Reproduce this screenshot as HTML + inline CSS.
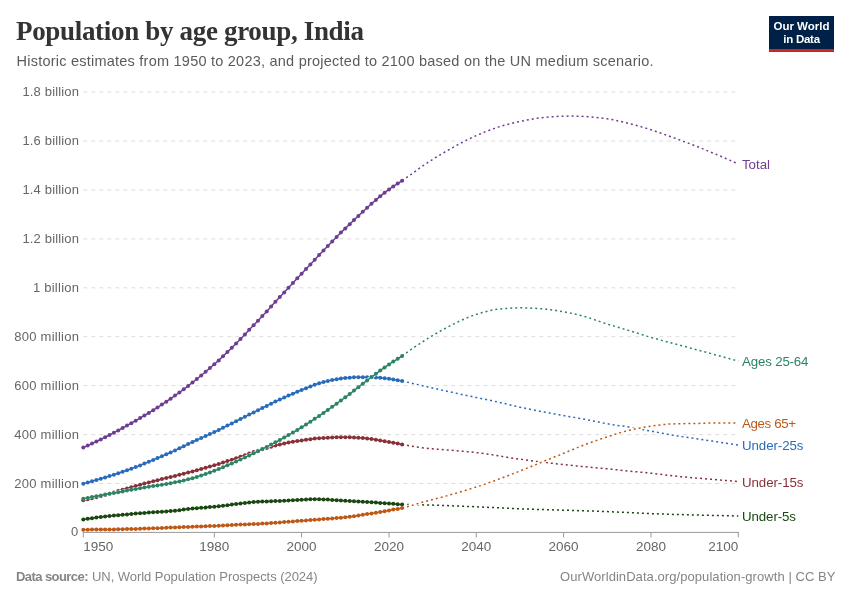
<!DOCTYPE html>
<html><head><meta charset="utf-8"><title>Population by age group, India</title>
<style>
html,body{margin:0;padding:0;background:#fff;}
body{width:850px;height:600px;overflow:hidden;position:relative;font-family:"Liberation Sans",sans-serif;}
svg{position:absolute;left:0;top:0;}
svg text{font-family:"Liberation Sans",sans-serif;}
svg{will-change:transform;}
.title{font-family:"Liberation Serif",serif;font-weight:bold;}
</style></head><body>
<svg width="850" height="600" viewBox="0 0 850 600">
<rect width="850" height="600" fill="#fff"/>
<text class="title" x="16" y="40.3" font-size="27" fill="#333" textLength="348" style="font-family:'Liberation Serif',serif;font-weight:bold">Population by age group, India</text>
<text x="16.5" y="66.2" font-size="14.5" fill="#5b5b5b" textLength="637">Historic estimates from 1950 to 2023, and projected to 2100 based on the UN medium scenario.</text>
<g id="logo">
<rect x="769" y="16" width="65" height="36" fill="#002147"/>
<rect x="769" y="49" width="65" height="3" fill="#ce261e"/>
<text x="801.5" y="30.4" text-anchor="middle" font-size="11.5" font-weight="bold" fill="#fff">Our World</text>
<text x="801.7" y="42.5" text-anchor="middle" font-size="11.5" font-weight="bold" fill="#fff" textLength="36.8">in Data</text>
</g>
<g id="grid">
<text x="71.1" y="536.4" font-size="13" fill="#666" textLength="7.2">0</text>
<line x1="83.3" x2="738.3" y1="483.5" y2="483.5" stroke="#ddd" stroke-dasharray="4 4"/>
<text x="14.2" y="487.5" font-size="13" fill="#666" textLength="64.8">200 million</text>
<line x1="83.3" x2="738.3" y1="434.6" y2="434.6" stroke="#ddd" stroke-dasharray="4 4"/>
<text x="14.2" y="438.6" font-size="13" fill="#666" textLength="64.8">400 million</text>
<line x1="83.3" x2="738.3" y1="385.6" y2="385.6" stroke="#ddd" stroke-dasharray="4 4"/>
<text x="14.2" y="389.6" font-size="13" fill="#666" textLength="64.8">600 million</text>
<line x1="83.3" x2="738.3" y1="336.7" y2="336.7" stroke="#ddd" stroke-dasharray="4 4"/>
<text x="14.2" y="340.7" font-size="13" fill="#666" textLength="64.8">800 million</text>
<line x1="83.3" x2="738.3" y1="287.8" y2="287.8" stroke="#ddd" stroke-dasharray="4 4"/>
<text x="32.9" y="291.8" font-size="13" fill="#666" textLength="46.1">1 billion</text>
<line x1="83.3" x2="738.3" y1="238.9" y2="238.9" stroke="#ddd" stroke-dasharray="4 4"/>
<text x="22.4" y="242.9" font-size="13" fill="#666" textLength="56.6">1.2 billion</text>
<line x1="83.3" x2="738.3" y1="190.0" y2="190.0" stroke="#ddd" stroke-dasharray="4 4"/>
<text x="22.4" y="194.0" font-size="13" fill="#666" textLength="56.6">1.4 billion</text>
<line x1="83.3" x2="738.3" y1="141.0" y2="141.0" stroke="#ddd" stroke-dasharray="4 4"/>
<text x="22.4" y="145.0" font-size="13" fill="#666" textLength="56.6">1.6 billion</text>
<line x1="83.3" x2="738.3" y1="92.1" y2="92.1" stroke="#ddd" stroke-dasharray="4 4"/>
<text x="22.4" y="96.1" font-size="13" fill="#666" textLength="56.6">1.8 billion</text>
</g>
<g id="xaxis">
<line x1="82.8" x2="738.8" y1="532.4" y2="532.4" stroke="#999"/>
<line x1="83.3" x2="83.3" y1="532.4" y2="537.4" stroke="#999"/>
<text x="83.3" y="550.6" text-anchor="start" font-size="13.5" fill="#666">1950</text>
<line x1="214.3" x2="214.3" y1="532.4" y2="537.4" stroke="#999"/>
<text x="214.3" y="550.6" text-anchor="middle" font-size="13.5" fill="#666">1980</text>
<line x1="301.6" x2="301.6" y1="532.4" y2="537.4" stroke="#999"/>
<text x="301.6" y="550.6" text-anchor="middle" font-size="13.5" fill="#666">2000</text>
<line x1="389.0" x2="389.0" y1="532.4" y2="537.4" stroke="#999"/>
<text x="389.0" y="550.6" text-anchor="middle" font-size="13.5" fill="#666">2020</text>
<line x1="476.3" x2="476.3" y1="532.4" y2="537.4" stroke="#999"/>
<text x="476.3" y="550.6" text-anchor="middle" font-size="13.5" fill="#666">2040</text>
<line x1="563.6" x2="563.6" y1="532.4" y2="537.4" stroke="#999"/>
<text x="563.6" y="550.6" text-anchor="middle" font-size="13.5" fill="#666">2060</text>
<line x1="651.0" x2="651.0" y1="532.4" y2="537.4" stroke="#999"/>
<text x="651.0" y="550.6" text-anchor="middle" font-size="13.5" fill="#666">2080</text>
<line x1="738.3" x2="738.3" y1="532.4" y2="537.4" stroke="#999"/>
<text x="738.3" y="550.6" text-anchor="end" font-size="13.5" fill="#666">2100</text>
</g>
<g id="lines">
<path d="M83.3,519.5 L87.7,518.8 L92.0,518.2 L96.4,517.6 L100.8,517.0 L105.1,516.5 L109.5,516.0 L113.9,515.6 L118.2,515.2 L122.6,514.8 L127.0,514.4 L131.3,514.0 L135.7,513.6 L140.1,513.3 L144.4,512.9 L148.8,512.6 L153.2,512.3 L157.5,512.0 L161.9,511.7 L166.3,511.4 L170.6,511.1 L175.0,510.7 L179.4,510.2 L183.7,509.6 L188.1,509.1 L192.5,508.6 L196.8,508.2 L201.2,507.8 L205.6,507.5 L209.9,507.1 L214.3,506.7 L218.7,506.2 L223.0,505.7 L227.4,505.2 L231.8,504.6 L236.1,504.1 L240.5,503.6 L244.9,503.1 L249.2,502.6 L253.6,502.1 L258.0,501.8 L262.3,501.6 L266.7,501.4 L271.1,501.2 L275.4,501.1 L279.8,500.9 L284.2,500.7 L288.5,500.5 L292.9,500.2 L297.3,500.0 L301.6,499.8 L306.0,499.6 L310.4,499.3 L314.7,499.2 L319.1,499.3 L323.5,499.4 L327.8,499.6 L332.2,499.9 L336.6,500.2 L340.9,500.5 L345.3,500.8 L349.7,501.0 L354.0,501.3 L358.4,501.5 L362.8,501.7 L367.1,502.0 L371.5,502.3 L375.9,502.6 L380.2,502.9 L384.6,503.2 L389.0,503.5 L393.3,503.8 L397.7,504.2 L402.1,504.4" fill="none" stroke="#fff" stroke-width="3.5"/><path d="M402.1,504.4 L406.4,504.5 L410.8,504.6 L415.2,504.7 L419.5,504.8 L423.9,504.9 L428.3,505.0 L432.6,505.1 L437.0,505.2 L441.4,505.4 L445.7,505.5 L450.1,505.7 L454.5,505.9 L458.8,506.1 L463.2,506.2 L467.6,506.4 L471.9,506.6 L476.3,506.8 L480.7,507.0 L485.0,507.2 L489.4,507.4 L493.8,507.6 L498.1,507.8 L502.5,508.0 L506.9,508.2 L511.2,508.4 L515.6,508.6 L520.0,508.8 L524.3,509.0 L528.7,509.1 L533.1,509.3 L537.4,509.4 L541.8,509.5 L546.2,509.7 L550.5,509.8 L554.9,509.9 L559.3,510.1 L563.6,510.2 L568.0,510.3 L572.4,510.5 L576.7,510.6 L581.1,510.7 L585.5,510.9 L589.8,511.0 L594.2,511.1 L598.6,511.3 L602.9,511.4 L607.3,511.6 L611.7,511.8 L616.0,512.0 L620.4,512.2 L624.8,512.4 L629.1,512.6 L633.5,512.8 L637.9,513.0 L642.2,513.2 L646.6,513.4 L651.0,513.6 L655.3,513.8 L659.7,513.9 L664.1,514.1 L668.4,514.2 L672.8,514.4 L677.2,514.5 L681.5,514.6 L685.9,514.8 L690.3,514.9 L694.6,515.0 L699.0,515.1 L703.4,515.2 L707.7,515.3 L712.1,515.4 L716.5,515.5 L720.8,515.6 L725.2,515.7 L729.6,515.8 L733.9,515.9 L738.3,516.0" fill="none" stroke="#fff" stroke-width="3.5"/><g fill="#18470F" stroke="#18470F"><path d="M402.1,504.4 L406.4,504.5 L410.8,504.6 L415.2,504.7 L419.5,504.8 L423.9,504.9 L428.3,505.0 L432.6,505.1 L437.0,505.2 L441.4,505.4 L445.7,505.5 L450.1,505.7 L454.5,505.9 L458.8,506.1 L463.2,506.2 L467.6,506.4 L471.9,506.6 L476.3,506.8 L480.7,507.0 L485.0,507.2 L489.4,507.4 L493.8,507.6 L498.1,507.8 L502.5,508.0 L506.9,508.2 L511.2,508.4 L515.6,508.6 L520.0,508.8 L524.3,509.0 L528.7,509.1 L533.1,509.3 L537.4,509.4 L541.8,509.5 L546.2,509.7 L550.5,509.8 L554.9,509.9 L559.3,510.1 L563.6,510.2 L568.0,510.3 L572.4,510.5 L576.7,510.6 L581.1,510.7 L585.5,510.9 L589.8,511.0 L594.2,511.1 L598.6,511.3 L602.9,511.4 L607.3,511.6 L611.7,511.8 L616.0,512.0 L620.4,512.2 L624.8,512.4 L629.1,512.6 L633.5,512.8 L637.9,513.0 L642.2,513.2 L646.6,513.4 L651.0,513.6 L655.3,513.8 L659.7,513.9 L664.1,514.1 L668.4,514.2 L672.8,514.4 L677.2,514.5 L681.5,514.6 L685.9,514.8 L690.3,514.9 L694.6,515.0 L699.0,515.1 L703.4,515.2 L707.7,515.3 L712.1,515.4 L716.5,515.5 L720.8,515.6 L725.2,515.7 L729.6,515.8 L733.9,515.9 L738.3,516.0" fill="none" stroke-width="1.5" stroke-dasharray="2 3"/><path d="M83.3,519.5 L87.7,518.8 L92.0,518.2 L96.4,517.6 L100.8,517.0 L105.1,516.5 L109.5,516.0 L113.9,515.6 L118.2,515.2 L122.6,514.8 L127.0,514.4 L131.3,514.0 L135.7,513.6 L140.1,513.3 L144.4,512.9 L148.8,512.6 L153.2,512.3 L157.5,512.0 L161.9,511.7 L166.3,511.4 L170.6,511.1 L175.0,510.7 L179.4,510.2 L183.7,509.6 L188.1,509.1 L192.5,508.6 L196.8,508.2 L201.2,507.8 L205.6,507.5 L209.9,507.1 L214.3,506.7 L218.7,506.2 L223.0,505.7 L227.4,505.2 L231.8,504.6 L236.1,504.1 L240.5,503.6 L244.9,503.1 L249.2,502.6 L253.6,502.1 L258.0,501.8 L262.3,501.6 L266.7,501.4 L271.1,501.2 L275.4,501.1 L279.8,500.9 L284.2,500.7 L288.5,500.5 L292.9,500.2 L297.3,500.0 L301.6,499.8 L306.0,499.6 L310.4,499.3 L314.7,499.2 L319.1,499.3 L323.5,499.4 L327.8,499.6 L332.2,499.9 L336.6,500.2 L340.9,500.5 L345.3,500.8 L349.7,501.0 L354.0,501.3 L358.4,501.5 L362.8,501.7 L367.1,502.0 L371.5,502.3 L375.9,502.6 L380.2,502.9 L384.6,503.2 L389.0,503.5 L393.3,503.8 L397.7,504.2 L402.1,504.4" fill="none" stroke-width="1.5"/><g stroke="none"><circle cx="83.3" cy="519.5" r="2"/><circle cx="87.7" cy="518.8" r="2"/><circle cx="92.0" cy="518.2" r="2"/><circle cx="96.4" cy="517.6" r="2"/><circle cx="100.8" cy="517.0" r="2"/><circle cx="105.1" cy="516.5" r="2"/><circle cx="109.5" cy="516.0" r="2"/><circle cx="113.9" cy="515.6" r="2"/><circle cx="118.2" cy="515.2" r="2"/><circle cx="122.6" cy="514.8" r="2"/><circle cx="127.0" cy="514.4" r="2"/><circle cx="131.3" cy="514.0" r="2"/><circle cx="135.7" cy="513.6" r="2"/><circle cx="140.1" cy="513.3" r="2"/><circle cx="144.4" cy="512.9" r="2"/><circle cx="148.8" cy="512.6" r="2"/><circle cx="153.2" cy="512.3" r="2"/><circle cx="157.5" cy="512.0" r="2"/><circle cx="161.9" cy="511.7" r="2"/><circle cx="166.3" cy="511.4" r="2"/><circle cx="170.6" cy="511.1" r="2"/><circle cx="175.0" cy="510.7" r="2"/><circle cx="179.4" cy="510.2" r="2"/><circle cx="183.7" cy="509.6" r="2"/><circle cx="188.1" cy="509.1" r="2"/><circle cx="192.5" cy="508.6" r="2"/><circle cx="196.8" cy="508.2" r="2"/><circle cx="201.2" cy="507.8" r="2"/><circle cx="205.6" cy="507.5" r="2"/><circle cx="209.9" cy="507.1" r="2"/><circle cx="214.3" cy="506.7" r="2"/><circle cx="218.7" cy="506.2" r="2"/><circle cx="223.0" cy="505.7" r="2"/><circle cx="227.4" cy="505.2" r="2"/><circle cx="231.8" cy="504.6" r="2"/><circle cx="236.1" cy="504.1" r="2"/><circle cx="240.5" cy="503.6" r="2"/><circle cx="244.9" cy="503.1" r="2"/><circle cx="249.2" cy="502.6" r="2"/><circle cx="253.6" cy="502.1" r="2"/><circle cx="258.0" cy="501.8" r="2"/><circle cx="262.3" cy="501.6" r="2"/><circle cx="266.7" cy="501.4" r="2"/><circle cx="271.1" cy="501.2" r="2"/><circle cx="275.4" cy="501.1" r="2"/><circle cx="279.8" cy="500.9" r="2"/><circle cx="284.2" cy="500.7" r="2"/><circle cx="288.5" cy="500.5" r="2"/><circle cx="292.9" cy="500.2" r="2"/><circle cx="297.3" cy="500.0" r="2"/><circle cx="301.6" cy="499.8" r="2"/><circle cx="306.0" cy="499.6" r="2"/><circle cx="310.4" cy="499.3" r="2"/><circle cx="314.7" cy="499.2" r="2"/><circle cx="319.1" cy="499.3" r="2"/><circle cx="323.5" cy="499.4" r="2"/><circle cx="327.8" cy="499.6" r="2"/><circle cx="332.2" cy="499.9" r="2"/><circle cx="336.6" cy="500.2" r="2"/><circle cx="340.9" cy="500.5" r="2"/><circle cx="345.3" cy="500.8" r="2"/><circle cx="349.7" cy="501.0" r="2"/><circle cx="354.0" cy="501.3" r="2"/><circle cx="358.4" cy="501.5" r="2"/><circle cx="362.8" cy="501.7" r="2"/><circle cx="367.1" cy="502.0" r="2"/><circle cx="371.5" cy="502.3" r="2"/><circle cx="375.9" cy="502.6" r="2"/><circle cx="380.2" cy="502.9" r="2"/><circle cx="384.6" cy="503.2" r="2"/><circle cx="389.0" cy="503.5" r="2"/><circle cx="393.3" cy="503.8" r="2"/><circle cx="397.7" cy="504.2" r="2"/><circle cx="402.1" cy="504.4" r="2"/></g></g>
<path d="M83.3,500.3 L87.7,499.3 L92.0,498.3 L96.4,497.3 L100.8,496.1 L105.1,495.0 L109.5,493.8 L113.9,492.5 L118.2,491.1 L122.6,489.8 L127.0,488.5 L131.3,487.2 L135.7,486.0 L140.1,484.8 L144.4,483.6 L148.8,482.4 L153.2,481.3 L157.5,480.2 L161.9,479.1 L166.3,478.1 L170.6,477.0 L175.0,475.9 L179.4,474.8 L183.7,473.7 L188.1,472.6 L192.5,471.4 L196.8,470.2 L201.2,469.0 L205.6,467.8 L209.9,466.6 L214.3,465.3 L218.7,464.0 L223.0,462.6 L227.4,461.1 L231.8,459.7 L236.1,458.2 L240.5,456.7 L244.9,455.2 L249.2,453.6 L253.6,452.1 L258.0,450.7 L262.3,449.3 L266.7,448.0 L271.1,446.7 L275.4,445.6 L279.8,444.5 L284.2,443.5 L288.5,442.6 L292.9,441.8 L297.3,441.1 L301.6,440.4 L306.0,439.8 L310.4,439.2 L314.7,438.6 L319.1,438.2 L323.5,437.9 L327.8,437.7 L332.2,437.5 L336.6,437.3 L340.9,437.2 L345.3,437.2 L349.7,437.3 L354.0,437.4 L358.4,437.7 L362.8,438.1 L367.1,438.6 L371.5,439.1 L375.9,439.8 L380.2,440.4 L384.6,441.2 L389.0,441.9 L393.3,442.7 L397.7,443.6 L402.1,444.4" fill="none" stroke="#fff" stroke-width="3.5"/><path d="M402.1,444.4 L406.4,445.2 L410.8,446.0 L415.2,446.8 L419.5,447.4 L423.9,448.0 L428.3,448.4 L432.6,448.8 L437.0,449.2 L441.4,449.5 L445.7,449.9 L450.1,450.2 L454.5,450.6 L458.8,450.9 L463.2,451.3 L467.6,451.7 L471.9,452.1 L476.3,452.6 L480.7,453.1 L485.0,453.7 L489.4,454.3 L493.8,455.0 L498.1,455.7 L502.5,456.5 L506.9,457.2 L511.2,457.9 L515.6,458.6 L520.0,459.2 L524.3,459.8 L528.7,460.4 L533.1,461.0 L537.4,461.6 L541.8,462.1 L546.2,462.6 L550.5,463.1 L554.9,463.6 L559.3,464.1 L563.6,464.6 L568.0,465.1 L572.4,465.5 L576.7,465.9 L581.1,466.4 L585.5,466.8 L589.8,467.2 L594.2,467.6 L598.6,468.0 L602.9,468.4 L607.3,468.8 L611.7,469.2 L616.0,469.7 L620.4,470.2 L624.8,470.6 L629.1,471.1 L633.5,471.5 L637.9,471.9 L642.2,472.3 L646.6,472.7 L651.0,473.2 L655.3,473.7 L659.7,474.3 L664.1,474.8 L668.4,475.4 L672.8,475.9 L677.2,476.3 L681.5,476.8 L685.9,477.1 L690.3,477.5 L694.6,477.9 L699.0,478.3 L703.4,478.6 L707.7,479.0 L712.1,479.3 L716.5,479.7 L720.8,480.1 L725.2,480.4 L729.6,480.8 L733.9,481.2 L738.3,481.6" fill="none" stroke="#fff" stroke-width="3.5"/><g fill="#883039" stroke="#883039"><path d="M402.1,444.4 L406.4,445.2 L410.8,446.0 L415.2,446.8 L419.5,447.4 L423.9,448.0 L428.3,448.4 L432.6,448.8 L437.0,449.2 L441.4,449.5 L445.7,449.9 L450.1,450.2 L454.5,450.6 L458.8,450.9 L463.2,451.3 L467.6,451.7 L471.9,452.1 L476.3,452.6 L480.7,453.1 L485.0,453.7 L489.4,454.3 L493.8,455.0 L498.1,455.7 L502.5,456.5 L506.9,457.2 L511.2,457.9 L515.6,458.6 L520.0,459.2 L524.3,459.8 L528.7,460.4 L533.1,461.0 L537.4,461.6 L541.8,462.1 L546.2,462.6 L550.5,463.1 L554.9,463.6 L559.3,464.1 L563.6,464.6 L568.0,465.1 L572.4,465.5 L576.7,465.9 L581.1,466.4 L585.5,466.8 L589.8,467.2 L594.2,467.6 L598.6,468.0 L602.9,468.4 L607.3,468.8 L611.7,469.2 L616.0,469.7 L620.4,470.2 L624.8,470.6 L629.1,471.1 L633.5,471.5 L637.9,471.9 L642.2,472.3 L646.6,472.7 L651.0,473.2 L655.3,473.7 L659.7,474.3 L664.1,474.8 L668.4,475.4 L672.8,475.9 L677.2,476.3 L681.5,476.8 L685.9,477.1 L690.3,477.5 L694.6,477.9 L699.0,478.3 L703.4,478.6 L707.7,479.0 L712.1,479.3 L716.5,479.7 L720.8,480.1 L725.2,480.4 L729.6,480.8 L733.9,481.2 L738.3,481.6" fill="none" stroke-width="1.5" stroke-dasharray="2 3"/><path d="M83.3,500.3 L87.7,499.3 L92.0,498.3 L96.4,497.3 L100.8,496.1 L105.1,495.0 L109.5,493.8 L113.9,492.5 L118.2,491.1 L122.6,489.8 L127.0,488.5 L131.3,487.2 L135.7,486.0 L140.1,484.8 L144.4,483.6 L148.8,482.4 L153.2,481.3 L157.5,480.2 L161.9,479.1 L166.3,478.1 L170.6,477.0 L175.0,475.9 L179.4,474.8 L183.7,473.7 L188.1,472.6 L192.5,471.4 L196.8,470.2 L201.2,469.0 L205.6,467.8 L209.9,466.6 L214.3,465.3 L218.7,464.0 L223.0,462.6 L227.4,461.1 L231.8,459.7 L236.1,458.2 L240.5,456.7 L244.9,455.2 L249.2,453.6 L253.6,452.1 L258.0,450.7 L262.3,449.3 L266.7,448.0 L271.1,446.7 L275.4,445.6 L279.8,444.5 L284.2,443.5 L288.5,442.6 L292.9,441.8 L297.3,441.1 L301.6,440.4 L306.0,439.8 L310.4,439.2 L314.7,438.6 L319.1,438.2 L323.5,437.9 L327.8,437.7 L332.2,437.5 L336.6,437.3 L340.9,437.2 L345.3,437.2 L349.7,437.3 L354.0,437.4 L358.4,437.7 L362.8,438.1 L367.1,438.6 L371.5,439.1 L375.9,439.8 L380.2,440.4 L384.6,441.2 L389.0,441.9 L393.3,442.7 L397.7,443.6 L402.1,444.4" fill="none" stroke-width="1.5"/><g stroke="none"><circle cx="83.3" cy="500.3" r="2"/><circle cx="87.7" cy="499.3" r="2"/><circle cx="92.0" cy="498.3" r="2"/><circle cx="96.4" cy="497.3" r="2"/><circle cx="100.8" cy="496.1" r="2"/><circle cx="105.1" cy="495.0" r="2"/><circle cx="109.5" cy="493.8" r="2"/><circle cx="113.9" cy="492.5" r="2"/><circle cx="118.2" cy="491.1" r="2"/><circle cx="122.6" cy="489.8" r="2"/><circle cx="127.0" cy="488.5" r="2"/><circle cx="131.3" cy="487.2" r="2"/><circle cx="135.7" cy="486.0" r="2"/><circle cx="140.1" cy="484.8" r="2"/><circle cx="144.4" cy="483.6" r="2"/><circle cx="148.8" cy="482.4" r="2"/><circle cx="153.2" cy="481.3" r="2"/><circle cx="157.5" cy="480.2" r="2"/><circle cx="161.9" cy="479.1" r="2"/><circle cx="166.3" cy="478.1" r="2"/><circle cx="170.6" cy="477.0" r="2"/><circle cx="175.0" cy="475.9" r="2"/><circle cx="179.4" cy="474.8" r="2"/><circle cx="183.7" cy="473.7" r="2"/><circle cx="188.1" cy="472.6" r="2"/><circle cx="192.5" cy="471.4" r="2"/><circle cx="196.8" cy="470.2" r="2"/><circle cx="201.2" cy="469.0" r="2"/><circle cx="205.6" cy="467.8" r="2"/><circle cx="209.9" cy="466.6" r="2"/><circle cx="214.3" cy="465.3" r="2"/><circle cx="218.7" cy="464.0" r="2"/><circle cx="223.0" cy="462.6" r="2"/><circle cx="227.4" cy="461.1" r="2"/><circle cx="231.8" cy="459.7" r="2"/><circle cx="236.1" cy="458.2" r="2"/><circle cx="240.5" cy="456.7" r="2"/><circle cx="244.9" cy="455.2" r="2"/><circle cx="249.2" cy="453.6" r="2"/><circle cx="253.6" cy="452.1" r="2"/><circle cx="258.0" cy="450.7" r="2"/><circle cx="262.3" cy="449.3" r="2"/><circle cx="266.7" cy="448.0" r="2"/><circle cx="271.1" cy="446.7" r="2"/><circle cx="275.4" cy="445.6" r="2"/><circle cx="279.8" cy="444.5" r="2"/><circle cx="284.2" cy="443.5" r="2"/><circle cx="288.5" cy="442.6" r="2"/><circle cx="292.9" cy="441.8" r="2"/><circle cx="297.3" cy="441.1" r="2"/><circle cx="301.6" cy="440.4" r="2"/><circle cx="306.0" cy="439.8" r="2"/><circle cx="310.4" cy="439.2" r="2"/><circle cx="314.7" cy="438.6" r="2"/><circle cx="319.1" cy="438.2" r="2"/><circle cx="323.5" cy="437.9" r="2"/><circle cx="327.8" cy="437.7" r="2"/><circle cx="332.2" cy="437.5" r="2"/><circle cx="336.6" cy="437.3" r="2"/><circle cx="340.9" cy="437.2" r="2"/><circle cx="345.3" cy="437.2" r="2"/><circle cx="349.7" cy="437.3" r="2"/><circle cx="354.0" cy="437.4" r="2"/><circle cx="358.4" cy="437.7" r="2"/><circle cx="362.8" cy="438.1" r="2"/><circle cx="367.1" cy="438.6" r="2"/><circle cx="371.5" cy="439.1" r="2"/><circle cx="375.9" cy="439.8" r="2"/><circle cx="380.2" cy="440.4" r="2"/><circle cx="384.6" cy="441.2" r="2"/><circle cx="389.0" cy="441.9" r="2"/><circle cx="393.3" cy="442.7" r="2"/><circle cx="397.7" cy="443.6" r="2"/><circle cx="402.1" cy="444.4" r="2"/></g></g>
<path d="M83.3,483.8 L87.7,482.6 L92.0,481.3 L96.4,480.0 L100.8,478.7 L105.1,477.4 L109.5,476.1 L113.9,474.7 L118.2,473.3 L122.6,471.8 L127.0,470.3 L131.3,468.7 L135.7,467.1 L140.1,465.4 L144.4,463.6 L148.8,461.8 L153.2,460.0 L157.5,458.1 L161.9,456.2 L166.3,454.3 L170.6,452.4 L175.0,450.4 L179.4,448.3 L183.7,446.2 L188.1,444.1 L192.5,442.0 L196.8,440.0 L201.2,438.1 L205.6,436.1 L209.9,434.1 L214.3,432.1 L218.7,430.0 L223.0,427.8 L227.4,425.6 L231.8,423.4 L236.1,421.2 L240.5,419.0 L244.9,416.8 L249.2,414.6 L253.6,412.4 L258.0,410.2 L262.3,408.0 L266.7,405.9 L271.1,403.7 L275.4,401.6 L279.8,399.6 L284.2,397.6 L288.5,395.6 L292.9,393.7 L297.3,391.8 L301.6,390.0 L306.0,388.2 L310.4,386.4 L314.7,384.7 L319.1,383.2 L323.5,382.0 L327.8,381.0 L332.2,380.1 L336.6,379.3 L340.9,378.6 L345.3,378.1 L349.7,377.7 L354.0,377.3 L358.4,377.2 L362.8,377.2 L367.1,377.2 L371.5,377.3 L375.9,377.5 L380.2,377.8 L384.6,378.3 L389.0,378.8 L393.3,379.5 L397.7,380.2 L402.1,381.1" fill="none" stroke="#fff" stroke-width="3.5"/><path d="M402.1,381.1 L406.4,382.0 L410.8,383.0 L415.2,384.0 L419.5,385.0 L423.9,386.0 L428.3,387.0 L432.6,388.0 L437.0,389.0 L441.4,390.0 L445.7,391.0 L450.1,391.9 L454.5,392.9 L458.8,393.8 L463.2,394.8 L467.6,395.7 L471.9,396.6 L476.3,397.5 L480.7,398.4 L485.0,399.3 L489.4,400.2 L493.8,401.1 L498.1,402.1 L502.5,403.1 L506.9,404.1 L511.2,405.2 L515.6,406.2 L520.0,407.2 L524.3,408.1 L528.7,409.0 L533.1,409.9 L537.4,410.7 L541.8,411.6 L546.2,412.4 L550.5,413.2 L554.9,414.0 L559.3,414.8 L563.6,415.6 L568.0,416.4 L572.4,417.1 L576.7,417.9 L581.1,418.6 L585.5,419.4 L589.8,420.3 L594.2,421.2 L598.6,422.1 L602.9,423.0 L607.3,423.8 L611.7,424.5 L616.0,425.2 L620.4,425.8 L624.8,426.4 L629.1,427.1 L633.5,427.8 L637.9,428.6 L642.2,429.5 L646.6,430.3 L651.0,431.1 L655.3,431.9 L659.7,432.8 L664.1,433.6 L668.4,434.4 L672.8,435.2 L677.2,435.9 L681.5,436.6 L685.9,437.2 L690.3,437.9 L694.6,438.5 L699.0,439.2 L703.4,439.8 L707.7,440.5 L712.1,441.1 L716.5,441.8 L720.8,442.4 L725.2,443.1 L729.6,443.7 L733.9,444.4 L738.3,445.0" fill="none" stroke="#fff" stroke-width="3.5"/><g fill="#286BBB" stroke="#286BBB"><path d="M402.1,381.1 L406.4,382.0 L410.8,383.0 L415.2,384.0 L419.5,385.0 L423.9,386.0 L428.3,387.0 L432.6,388.0 L437.0,389.0 L441.4,390.0 L445.7,391.0 L450.1,391.9 L454.5,392.9 L458.8,393.8 L463.2,394.8 L467.6,395.7 L471.9,396.6 L476.3,397.5 L480.7,398.4 L485.0,399.3 L489.4,400.2 L493.8,401.1 L498.1,402.1 L502.5,403.1 L506.9,404.1 L511.2,405.2 L515.6,406.2 L520.0,407.2 L524.3,408.1 L528.7,409.0 L533.1,409.9 L537.4,410.7 L541.8,411.6 L546.2,412.4 L550.5,413.2 L554.9,414.0 L559.3,414.8 L563.6,415.6 L568.0,416.4 L572.4,417.1 L576.7,417.9 L581.1,418.6 L585.5,419.4 L589.8,420.3 L594.2,421.2 L598.6,422.1 L602.9,423.0 L607.3,423.8 L611.7,424.5 L616.0,425.2 L620.4,425.8 L624.8,426.4 L629.1,427.1 L633.5,427.8 L637.9,428.6 L642.2,429.5 L646.6,430.3 L651.0,431.1 L655.3,431.9 L659.7,432.8 L664.1,433.6 L668.4,434.4 L672.8,435.2 L677.2,435.9 L681.5,436.6 L685.9,437.2 L690.3,437.9 L694.6,438.5 L699.0,439.2 L703.4,439.8 L707.7,440.5 L712.1,441.1 L716.5,441.8 L720.8,442.4 L725.2,443.1 L729.6,443.7 L733.9,444.4 L738.3,445.0" fill="none" stroke-width="1.5" stroke-dasharray="2 3"/><path d="M83.3,483.8 L87.7,482.6 L92.0,481.3 L96.4,480.0 L100.8,478.7 L105.1,477.4 L109.5,476.1 L113.9,474.7 L118.2,473.3 L122.6,471.8 L127.0,470.3 L131.3,468.7 L135.7,467.1 L140.1,465.4 L144.4,463.6 L148.8,461.8 L153.2,460.0 L157.5,458.1 L161.9,456.2 L166.3,454.3 L170.6,452.4 L175.0,450.4 L179.4,448.3 L183.7,446.2 L188.1,444.1 L192.5,442.0 L196.8,440.0 L201.2,438.1 L205.6,436.1 L209.9,434.1 L214.3,432.1 L218.7,430.0 L223.0,427.8 L227.4,425.6 L231.8,423.4 L236.1,421.2 L240.5,419.0 L244.9,416.8 L249.2,414.6 L253.6,412.4 L258.0,410.2 L262.3,408.0 L266.7,405.9 L271.1,403.7 L275.4,401.6 L279.8,399.6 L284.2,397.6 L288.5,395.6 L292.9,393.7 L297.3,391.8 L301.6,390.0 L306.0,388.2 L310.4,386.4 L314.7,384.7 L319.1,383.2 L323.5,382.0 L327.8,381.0 L332.2,380.1 L336.6,379.3 L340.9,378.6 L345.3,378.1 L349.7,377.7 L354.0,377.3 L358.4,377.2 L362.8,377.2 L367.1,377.2 L371.5,377.3 L375.9,377.5 L380.2,377.8 L384.6,378.3 L389.0,378.8 L393.3,379.5 L397.7,380.2 L402.1,381.1" fill="none" stroke-width="1.5"/><g stroke="none"><circle cx="83.3" cy="483.8" r="2"/><circle cx="87.7" cy="482.6" r="2"/><circle cx="92.0" cy="481.3" r="2"/><circle cx="96.4" cy="480.0" r="2"/><circle cx="100.8" cy="478.7" r="2"/><circle cx="105.1" cy="477.4" r="2"/><circle cx="109.5" cy="476.1" r="2"/><circle cx="113.9" cy="474.7" r="2"/><circle cx="118.2" cy="473.3" r="2"/><circle cx="122.6" cy="471.8" r="2"/><circle cx="127.0" cy="470.3" r="2"/><circle cx="131.3" cy="468.7" r="2"/><circle cx="135.7" cy="467.1" r="2"/><circle cx="140.1" cy="465.4" r="2"/><circle cx="144.4" cy="463.6" r="2"/><circle cx="148.8" cy="461.8" r="2"/><circle cx="153.2" cy="460.0" r="2"/><circle cx="157.5" cy="458.1" r="2"/><circle cx="161.9" cy="456.2" r="2"/><circle cx="166.3" cy="454.3" r="2"/><circle cx="170.6" cy="452.4" r="2"/><circle cx="175.0" cy="450.4" r="2"/><circle cx="179.4" cy="448.3" r="2"/><circle cx="183.7" cy="446.2" r="2"/><circle cx="188.1" cy="444.1" r="2"/><circle cx="192.5" cy="442.0" r="2"/><circle cx="196.8" cy="440.0" r="2"/><circle cx="201.2" cy="438.1" r="2"/><circle cx="205.6" cy="436.1" r="2"/><circle cx="209.9" cy="434.1" r="2"/><circle cx="214.3" cy="432.1" r="2"/><circle cx="218.7" cy="430.0" r="2"/><circle cx="223.0" cy="427.8" r="2"/><circle cx="227.4" cy="425.6" r="2"/><circle cx="231.8" cy="423.4" r="2"/><circle cx="236.1" cy="421.2" r="2"/><circle cx="240.5" cy="419.0" r="2"/><circle cx="244.9" cy="416.8" r="2"/><circle cx="249.2" cy="414.6" r="2"/><circle cx="253.6" cy="412.4" r="2"/><circle cx="258.0" cy="410.2" r="2"/><circle cx="262.3" cy="408.0" r="2"/><circle cx="266.7" cy="405.9" r="2"/><circle cx="271.1" cy="403.7" r="2"/><circle cx="275.4" cy="401.6" r="2"/><circle cx="279.8" cy="399.6" r="2"/><circle cx="284.2" cy="397.6" r="2"/><circle cx="288.5" cy="395.6" r="2"/><circle cx="292.9" cy="393.7" r="2"/><circle cx="297.3" cy="391.8" r="2"/><circle cx="301.6" cy="390.0" r="2"/><circle cx="306.0" cy="388.2" r="2"/><circle cx="310.4" cy="386.4" r="2"/><circle cx="314.7" cy="384.7" r="2"/><circle cx="319.1" cy="383.2" r="2"/><circle cx="323.5" cy="382.0" r="2"/><circle cx="327.8" cy="381.0" r="2"/><circle cx="332.2" cy="380.1" r="2"/><circle cx="336.6" cy="379.3" r="2"/><circle cx="340.9" cy="378.6" r="2"/><circle cx="345.3" cy="378.1" r="2"/><circle cx="349.7" cy="377.7" r="2"/><circle cx="354.0" cy="377.3" r="2"/><circle cx="358.4" cy="377.2" r="2"/><circle cx="362.8" cy="377.2" r="2"/><circle cx="367.1" cy="377.2" r="2"/><circle cx="371.5" cy="377.3" r="2"/><circle cx="375.9" cy="377.5" r="2"/><circle cx="380.2" cy="377.8" r="2"/><circle cx="384.6" cy="378.3" r="2"/><circle cx="389.0" cy="378.8" r="2"/><circle cx="393.3" cy="379.5" r="2"/><circle cx="397.7" cy="380.2" r="2"/><circle cx="402.1" cy="381.1" r="2"/></g></g>
<path d="M83.3,498.8 L87.7,497.9 L92.0,497.1 L96.4,496.3 L100.8,495.4 L105.1,494.6 L109.5,493.8 L113.9,493.0 L118.2,492.2 L122.6,491.4 L127.0,490.6 L131.3,489.8 L135.7,489.1 L140.1,488.3 L144.4,487.5 L148.8,486.8 L153.2,486.1 L157.5,485.4 L161.9,484.7 L166.3,484.0 L170.6,483.2 L175.0,482.3 L179.4,481.4 L183.7,480.4 L188.1,479.3 L192.5,478.2 L196.8,476.9 L201.2,475.5 L205.6,474.0 L209.9,472.4 L214.3,470.8 L218.7,469.1 L223.0,467.2 L227.4,465.3 L231.8,463.4 L236.1,461.4 L240.5,459.4 L244.9,457.4 L249.2,455.4 L253.6,453.3 L258.0,451.2 L262.3,449.0 L266.7,446.9 L271.1,444.6 L275.4,442.3 L279.8,440.0 L284.2,437.6 L288.5,435.1 L292.9,432.6 L297.3,430.0 L301.6,427.3 L306.0,424.6 L310.4,421.7 L314.7,418.8 L319.1,415.9 L323.5,412.9 L327.8,409.9 L332.2,406.8 L336.6,403.7 L340.9,400.5 L345.3,397.3 L349.7,394.0 L354.0,390.6 L358.4,387.2 L362.8,383.7 L367.1,380.4 L371.5,377.1 L375.9,373.8 L380.2,370.6 L384.6,367.4 L389.0,364.4 L393.3,361.6 L397.7,358.8 L402.1,356.0" fill="none" stroke="#fff" stroke-width="3.5"/><path d="M402.1,356.0 L406.4,352.9 L410.8,349.7 L415.2,346.7 L419.5,343.8 L423.9,341.0 L428.3,338.2 L432.6,335.6 L437.0,333.0 L441.4,330.5 L445.7,328.1 L450.1,325.8 L454.5,323.6 L458.8,321.5 L463.2,319.5 L467.6,317.6 L471.9,315.9 L476.3,314.4 L480.7,313.1 L485.0,311.8 L489.4,310.7 L493.8,309.8 L498.1,309.2 L502.5,308.8 L506.9,308.4 L511.2,308.1 L515.6,307.9 L520.0,307.8 L524.3,307.9 L528.7,308.0 L533.1,308.2 L537.4,308.5 L541.8,308.8 L546.2,309.2 L550.5,309.7 L554.9,310.3 L559.3,311.1 L563.6,311.8 L568.0,312.6 L572.4,313.5 L576.7,314.5 L581.1,315.6 L585.5,316.8 L589.8,318.1 L594.2,319.6 L598.6,321.1 L602.9,322.7 L607.3,324.1 L611.7,325.4 L616.0,326.7 L620.4,328.0 L624.8,329.3 L629.1,330.6 L633.5,332.0 L637.9,333.3 L642.2,334.7 L646.6,336.1 L651.0,337.4 L655.3,338.6 L659.7,339.8 L664.1,341.0 L668.4,342.1 L672.8,343.3 L677.2,344.5 L681.5,345.7 L685.9,346.8 L690.3,348.0 L694.6,349.2 L699.0,350.4 L703.4,351.6 L707.7,352.7 L712.1,353.9 L716.5,355.1 L720.8,356.3 L725.2,357.5 L729.6,358.7 L733.9,359.9 L738.3,361.1" fill="none" stroke="#fff" stroke-width="3.5"/><g fill="#2C8465" stroke="#2C8465"><path d="M402.1,356.0 L406.4,352.9 L410.8,349.7 L415.2,346.7 L419.5,343.8 L423.9,341.0 L428.3,338.2 L432.6,335.6 L437.0,333.0 L441.4,330.5 L445.7,328.1 L450.1,325.8 L454.5,323.6 L458.8,321.5 L463.2,319.5 L467.6,317.6 L471.9,315.9 L476.3,314.4 L480.7,313.1 L485.0,311.8 L489.4,310.7 L493.8,309.8 L498.1,309.2 L502.5,308.8 L506.9,308.4 L511.2,308.1 L515.6,307.9 L520.0,307.8 L524.3,307.9 L528.7,308.0 L533.1,308.2 L537.4,308.5 L541.8,308.8 L546.2,309.2 L550.5,309.7 L554.9,310.3 L559.3,311.1 L563.6,311.8 L568.0,312.6 L572.4,313.5 L576.7,314.5 L581.1,315.6 L585.5,316.8 L589.8,318.1 L594.2,319.6 L598.6,321.1 L602.9,322.7 L607.3,324.1 L611.7,325.4 L616.0,326.7 L620.4,328.0 L624.8,329.3 L629.1,330.6 L633.5,332.0 L637.9,333.3 L642.2,334.7 L646.6,336.1 L651.0,337.4 L655.3,338.6 L659.7,339.8 L664.1,341.0 L668.4,342.1 L672.8,343.3 L677.2,344.5 L681.5,345.7 L685.9,346.8 L690.3,348.0 L694.6,349.2 L699.0,350.4 L703.4,351.6 L707.7,352.7 L712.1,353.9 L716.5,355.1 L720.8,356.3 L725.2,357.5 L729.6,358.7 L733.9,359.9 L738.3,361.1" fill="none" stroke-width="1.5" stroke-dasharray="2 3"/><path d="M83.3,498.8 L87.7,497.9 L92.0,497.1 L96.4,496.3 L100.8,495.4 L105.1,494.6 L109.5,493.8 L113.9,493.0 L118.2,492.2 L122.6,491.4 L127.0,490.6 L131.3,489.8 L135.7,489.1 L140.1,488.3 L144.4,487.5 L148.8,486.8 L153.2,486.1 L157.5,485.4 L161.9,484.7 L166.3,484.0 L170.6,483.2 L175.0,482.3 L179.4,481.4 L183.7,480.4 L188.1,479.3 L192.5,478.2 L196.8,476.9 L201.2,475.5 L205.6,474.0 L209.9,472.4 L214.3,470.8 L218.7,469.1 L223.0,467.2 L227.4,465.3 L231.8,463.4 L236.1,461.4 L240.5,459.4 L244.9,457.4 L249.2,455.4 L253.6,453.3 L258.0,451.2 L262.3,449.0 L266.7,446.9 L271.1,444.6 L275.4,442.3 L279.8,440.0 L284.2,437.6 L288.5,435.1 L292.9,432.6 L297.3,430.0 L301.6,427.3 L306.0,424.6 L310.4,421.7 L314.7,418.8 L319.1,415.9 L323.5,412.9 L327.8,409.9 L332.2,406.8 L336.6,403.7 L340.9,400.5 L345.3,397.3 L349.7,394.0 L354.0,390.6 L358.4,387.2 L362.8,383.7 L367.1,380.4 L371.5,377.1 L375.9,373.8 L380.2,370.6 L384.6,367.4 L389.0,364.4 L393.3,361.6 L397.7,358.8 L402.1,356.0" fill="none" stroke-width="1.5"/><g stroke="none"><circle cx="83.3" cy="498.8" r="2"/><circle cx="87.7" cy="497.9" r="2"/><circle cx="92.0" cy="497.1" r="2"/><circle cx="96.4" cy="496.3" r="2"/><circle cx="100.8" cy="495.4" r="2"/><circle cx="105.1" cy="494.6" r="2"/><circle cx="109.5" cy="493.8" r="2"/><circle cx="113.9" cy="493.0" r="2"/><circle cx="118.2" cy="492.2" r="2"/><circle cx="122.6" cy="491.4" r="2"/><circle cx="127.0" cy="490.6" r="2"/><circle cx="131.3" cy="489.8" r="2"/><circle cx="135.7" cy="489.1" r="2"/><circle cx="140.1" cy="488.3" r="2"/><circle cx="144.4" cy="487.5" r="2"/><circle cx="148.8" cy="486.8" r="2"/><circle cx="153.2" cy="486.1" r="2"/><circle cx="157.5" cy="485.4" r="2"/><circle cx="161.9" cy="484.7" r="2"/><circle cx="166.3" cy="484.0" r="2"/><circle cx="170.6" cy="483.2" r="2"/><circle cx="175.0" cy="482.3" r="2"/><circle cx="179.4" cy="481.4" r="2"/><circle cx="183.7" cy="480.4" r="2"/><circle cx="188.1" cy="479.3" r="2"/><circle cx="192.5" cy="478.2" r="2"/><circle cx="196.8" cy="476.9" r="2"/><circle cx="201.2" cy="475.5" r="2"/><circle cx="205.6" cy="474.0" r="2"/><circle cx="209.9" cy="472.4" r="2"/><circle cx="214.3" cy="470.8" r="2"/><circle cx="218.7" cy="469.1" r="2"/><circle cx="223.0" cy="467.2" r="2"/><circle cx="227.4" cy="465.3" r="2"/><circle cx="231.8" cy="463.4" r="2"/><circle cx="236.1" cy="461.4" r="2"/><circle cx="240.5" cy="459.4" r="2"/><circle cx="244.9" cy="457.4" r="2"/><circle cx="249.2" cy="455.4" r="2"/><circle cx="253.6" cy="453.3" r="2"/><circle cx="258.0" cy="451.2" r="2"/><circle cx="262.3" cy="449.0" r="2"/><circle cx="266.7" cy="446.9" r="2"/><circle cx="271.1" cy="444.6" r="2"/><circle cx="275.4" cy="442.3" r="2"/><circle cx="279.8" cy="440.0" r="2"/><circle cx="284.2" cy="437.6" r="2"/><circle cx="288.5" cy="435.1" r="2"/><circle cx="292.9" cy="432.6" r="2"/><circle cx="297.3" cy="430.0" r="2"/><circle cx="301.6" cy="427.3" r="2"/><circle cx="306.0" cy="424.6" r="2"/><circle cx="310.4" cy="421.7" r="2"/><circle cx="314.7" cy="418.8" r="2"/><circle cx="319.1" cy="415.9" r="2"/><circle cx="323.5" cy="412.9" r="2"/><circle cx="327.8" cy="409.9" r="2"/><circle cx="332.2" cy="406.8" r="2"/><circle cx="336.6" cy="403.7" r="2"/><circle cx="340.9" cy="400.5" r="2"/><circle cx="345.3" cy="397.3" r="2"/><circle cx="349.7" cy="394.0" r="2"/><circle cx="354.0" cy="390.6" r="2"/><circle cx="358.4" cy="387.2" r="2"/><circle cx="362.8" cy="383.7" r="2"/><circle cx="367.1" cy="380.4" r="2"/><circle cx="371.5" cy="377.1" r="2"/><circle cx="375.9" cy="373.8" r="2"/><circle cx="380.2" cy="370.6" r="2"/><circle cx="384.6" cy="367.4" r="2"/><circle cx="389.0" cy="364.4" r="2"/><circle cx="393.3" cy="361.6" r="2"/><circle cx="397.7" cy="358.8" r="2"/><circle cx="402.1" cy="356.0" r="2"/></g></g>
<path d="M83.3,529.7 L87.7,529.7 L92.0,529.6 L96.4,529.6 L100.8,529.6 L105.1,529.5 L109.5,529.4 L113.9,529.4 L118.2,529.3 L122.6,529.2 L127.0,529.1 L131.3,529.0 L135.7,528.9 L140.1,528.8 L144.4,528.6 L148.8,528.5 L153.2,528.3 L157.5,528.2 L161.9,528.0 L166.3,527.8 L170.6,527.6 L175.0,527.4 L179.4,527.2 L183.7,527.1 L188.1,526.9 L192.5,526.7 L196.8,526.5 L201.2,526.4 L205.6,526.2 L209.9,526.1 L214.3,525.9 L218.7,525.7 L223.0,525.5 L227.4,525.2 L231.8,525.0 L236.1,524.8 L240.5,524.6 L244.9,524.4 L249.2,524.3 L253.6,524.1 L258.0,523.9 L262.3,523.6 L266.7,523.4 L271.1,523.0 L275.4,522.7 L279.8,522.4 L284.2,522.1 L288.5,521.8 L292.9,521.5 L297.3,521.1 L301.6,520.8 L306.0,520.5 L310.4,520.1 L314.7,519.8 L319.1,519.4 L323.5,519.1 L327.8,518.8 L332.2,518.4 L336.6,518.1 L340.9,517.7 L345.3,517.3 L349.7,516.8 L354.0,516.2 L358.4,515.5 L362.8,514.8 L367.1,514.1 L371.5,513.4 L375.9,512.7 L380.2,511.9 L384.6,511.2 L389.0,510.4 L393.3,509.6 L397.7,508.9 L402.1,508.0" fill="none" stroke="#fff" stroke-width="3.5"/><path d="M402.1,508.0 L406.4,506.9 L410.8,505.7 L415.2,504.4 L419.5,503.0 L423.9,501.8 L428.3,500.7 L432.6,499.6 L437.0,498.4 L441.4,497.3 L445.7,496.1 L450.1,494.9 L454.5,493.6 L458.8,492.4 L463.2,491.1 L467.6,489.7 L471.9,488.4 L476.3,487.0 L480.7,485.6 L485.0,484.1 L489.4,482.5 L493.8,481.0 L498.1,479.4 L502.5,477.7 L506.9,476.1 L511.2,474.4 L515.6,472.7 L520.0,471.0 L524.3,469.3 L528.7,467.5 L533.1,465.7 L537.4,463.9 L541.8,462.1 L546.2,460.3 L550.5,458.6 L554.9,456.8 L559.3,455.1 L563.6,453.3 L568.0,451.5 L572.4,449.7 L576.7,447.9 L581.1,446.1 L585.5,444.4 L589.8,442.8 L594.2,441.2 L598.6,439.7 L602.9,438.2 L607.3,436.8 L611.7,435.4 L616.0,434.0 L620.4,432.6 L624.8,431.4 L629.1,430.3 L633.5,429.3 L637.9,428.4 L642.2,427.6 L646.6,426.8 L651.0,426.2 L655.3,425.6 L659.7,425.0 L664.1,424.5 L668.4,424.1 L672.8,423.9 L677.2,423.8 L681.5,423.7 L685.9,423.6 L690.3,423.6 L694.6,423.5 L699.0,423.4 L703.4,423.3 L707.7,423.1 L712.1,423.0 L716.5,423.0 L720.8,423.0 L725.2,423.0 L729.6,423.0 L733.9,423.0 L738.3,423.0" fill="none" stroke="#fff" stroke-width="3.5"/><g fill="#BE5915" stroke="#BE5915"><path d="M402.1,508.0 L406.4,506.9 L410.8,505.7 L415.2,504.4 L419.5,503.0 L423.9,501.8 L428.3,500.7 L432.6,499.6 L437.0,498.4 L441.4,497.3 L445.7,496.1 L450.1,494.9 L454.5,493.6 L458.8,492.4 L463.2,491.1 L467.6,489.7 L471.9,488.4 L476.3,487.0 L480.7,485.6 L485.0,484.1 L489.4,482.5 L493.8,481.0 L498.1,479.4 L502.5,477.7 L506.9,476.1 L511.2,474.4 L515.6,472.7 L520.0,471.0 L524.3,469.3 L528.7,467.5 L533.1,465.7 L537.4,463.9 L541.8,462.1 L546.2,460.3 L550.5,458.6 L554.9,456.8 L559.3,455.1 L563.6,453.3 L568.0,451.5 L572.4,449.7 L576.7,447.9 L581.1,446.1 L585.5,444.4 L589.8,442.8 L594.2,441.2 L598.6,439.7 L602.9,438.2 L607.3,436.8 L611.7,435.4 L616.0,434.0 L620.4,432.6 L624.8,431.4 L629.1,430.3 L633.5,429.3 L637.9,428.4 L642.2,427.6 L646.6,426.8 L651.0,426.2 L655.3,425.6 L659.7,425.0 L664.1,424.5 L668.4,424.1 L672.8,423.9 L677.2,423.8 L681.5,423.7 L685.9,423.6 L690.3,423.6 L694.6,423.5 L699.0,423.4 L703.4,423.3 L707.7,423.1 L712.1,423.0 L716.5,423.0 L720.8,423.0 L725.2,423.0 L729.6,423.0 L733.9,423.0 L738.3,423.0" fill="none" stroke-width="1.5" stroke-dasharray="2 3"/><path d="M83.3,529.7 L87.7,529.7 L92.0,529.6 L96.4,529.6 L100.8,529.6 L105.1,529.5 L109.5,529.4 L113.9,529.4 L118.2,529.3 L122.6,529.2 L127.0,529.1 L131.3,529.0 L135.7,528.9 L140.1,528.8 L144.4,528.6 L148.8,528.5 L153.2,528.3 L157.5,528.2 L161.9,528.0 L166.3,527.8 L170.6,527.6 L175.0,527.4 L179.4,527.2 L183.7,527.1 L188.1,526.9 L192.5,526.7 L196.8,526.5 L201.2,526.4 L205.6,526.2 L209.9,526.1 L214.3,525.9 L218.7,525.7 L223.0,525.5 L227.4,525.2 L231.8,525.0 L236.1,524.8 L240.5,524.6 L244.9,524.4 L249.2,524.3 L253.6,524.1 L258.0,523.9 L262.3,523.6 L266.7,523.4 L271.1,523.0 L275.4,522.7 L279.8,522.4 L284.2,522.1 L288.5,521.8 L292.9,521.5 L297.3,521.1 L301.6,520.8 L306.0,520.5 L310.4,520.1 L314.7,519.8 L319.1,519.4 L323.5,519.1 L327.8,518.8 L332.2,518.4 L336.6,518.1 L340.9,517.7 L345.3,517.3 L349.7,516.8 L354.0,516.2 L358.4,515.5 L362.8,514.8 L367.1,514.1 L371.5,513.4 L375.9,512.7 L380.2,511.9 L384.6,511.2 L389.0,510.4 L393.3,509.6 L397.7,508.9 L402.1,508.0" fill="none" stroke-width="1.5"/><g stroke="none"><circle cx="83.3" cy="529.7" r="2"/><circle cx="87.7" cy="529.7" r="2"/><circle cx="92.0" cy="529.6" r="2"/><circle cx="96.4" cy="529.6" r="2"/><circle cx="100.8" cy="529.6" r="2"/><circle cx="105.1" cy="529.5" r="2"/><circle cx="109.5" cy="529.4" r="2"/><circle cx="113.9" cy="529.4" r="2"/><circle cx="118.2" cy="529.3" r="2"/><circle cx="122.6" cy="529.2" r="2"/><circle cx="127.0" cy="529.1" r="2"/><circle cx="131.3" cy="529.0" r="2"/><circle cx="135.7" cy="528.9" r="2"/><circle cx="140.1" cy="528.8" r="2"/><circle cx="144.4" cy="528.6" r="2"/><circle cx="148.8" cy="528.5" r="2"/><circle cx="153.2" cy="528.3" r="2"/><circle cx="157.5" cy="528.2" r="2"/><circle cx="161.9" cy="528.0" r="2"/><circle cx="166.3" cy="527.8" r="2"/><circle cx="170.6" cy="527.6" r="2"/><circle cx="175.0" cy="527.4" r="2"/><circle cx="179.4" cy="527.2" r="2"/><circle cx="183.7" cy="527.1" r="2"/><circle cx="188.1" cy="526.9" r="2"/><circle cx="192.5" cy="526.7" r="2"/><circle cx="196.8" cy="526.5" r="2"/><circle cx="201.2" cy="526.4" r="2"/><circle cx="205.6" cy="526.2" r="2"/><circle cx="209.9" cy="526.1" r="2"/><circle cx="214.3" cy="525.9" r="2"/><circle cx="218.7" cy="525.7" r="2"/><circle cx="223.0" cy="525.5" r="2"/><circle cx="227.4" cy="525.2" r="2"/><circle cx="231.8" cy="525.0" r="2"/><circle cx="236.1" cy="524.8" r="2"/><circle cx="240.5" cy="524.6" r="2"/><circle cx="244.9" cy="524.4" r="2"/><circle cx="249.2" cy="524.3" r="2"/><circle cx="253.6" cy="524.1" r="2"/><circle cx="258.0" cy="523.9" r="2"/><circle cx="262.3" cy="523.6" r="2"/><circle cx="266.7" cy="523.4" r="2"/><circle cx="271.1" cy="523.0" r="2"/><circle cx="275.4" cy="522.7" r="2"/><circle cx="279.8" cy="522.4" r="2"/><circle cx="284.2" cy="522.1" r="2"/><circle cx="288.5" cy="521.8" r="2"/><circle cx="292.9" cy="521.5" r="2"/><circle cx="297.3" cy="521.1" r="2"/><circle cx="301.6" cy="520.8" r="2"/><circle cx="306.0" cy="520.5" r="2"/><circle cx="310.4" cy="520.1" r="2"/><circle cx="314.7" cy="519.8" r="2"/><circle cx="319.1" cy="519.4" r="2"/><circle cx="323.5" cy="519.1" r="2"/><circle cx="327.8" cy="518.8" r="2"/><circle cx="332.2" cy="518.4" r="2"/><circle cx="336.6" cy="518.1" r="2"/><circle cx="340.9" cy="517.7" r="2"/><circle cx="345.3" cy="517.3" r="2"/><circle cx="349.7" cy="516.8" r="2"/><circle cx="354.0" cy="516.2" r="2"/><circle cx="358.4" cy="515.5" r="2"/><circle cx="362.8" cy="514.8" r="2"/><circle cx="367.1" cy="514.1" r="2"/><circle cx="371.5" cy="513.4" r="2"/><circle cx="375.9" cy="512.7" r="2"/><circle cx="380.2" cy="511.9" r="2"/><circle cx="384.6" cy="511.2" r="2"/><circle cx="389.0" cy="510.4" r="2"/><circle cx="393.3" cy="509.6" r="2"/><circle cx="397.7" cy="508.9" r="2"/><circle cx="402.1" cy="508.0" r="2"/></g></g>
<path d="M83.3,447.6 L87.7,445.6 L92.0,443.6 L96.4,441.5 L100.8,439.4 L105.1,437.2 L109.5,435.0 L113.9,432.7 L118.2,430.4 L122.6,428.0 L127.0,425.6 L131.3,423.2 L135.7,420.7 L140.1,418.1 L144.4,415.5 L148.8,412.9 L153.2,410.2 L157.5,407.4 L161.9,404.6 L166.3,401.7 L170.6,398.7 L175.0,395.6 L179.4,392.5 L183.7,389.3 L188.1,385.9 L192.5,382.5 L196.8,379.0 L201.2,375.5 L205.6,371.8 L209.9,368.1 L214.3,364.3 L218.7,360.4 L223.0,356.3 L227.4,352.1 L231.8,347.8 L236.1,343.4 L240.5,338.9 L244.9,334.4 L249.2,329.8 L253.6,325.3 L258.0,320.7 L262.3,316.1 L266.7,311.4 L271.1,306.6 L275.4,301.8 L279.8,297.1 L284.2,292.4 L288.5,287.7 L292.9,283.0 L297.3,278.3 L301.6,273.7 L306.0,269.1 L310.4,264.4 L314.7,259.8 L319.1,255.1 L323.5,250.5 L327.8,246.0 L332.2,241.4 L336.6,237.0 L340.9,232.6 L345.3,228.4 L349.7,224.2 L354.0,220.0 L358.4,215.9 L362.8,211.7 L367.1,207.7 L371.5,203.8 L375.9,199.9 L380.2,196.3 L384.6,192.7 L389.0,189.4 L393.3,186.4 L397.7,183.6 L402.1,180.7" fill="none" stroke="#fff" stroke-width="3.5"/><path d="M402.1,180.7 L406.4,177.7 L410.8,174.6 L415.2,171.4 L419.5,168.2 L423.9,165.2 L428.3,162.2 L432.6,159.4 L437.0,156.7 L441.4,154.1 L445.7,151.5 L450.1,149.0 L454.5,146.5 L458.8,144.1 L463.2,141.9 L467.6,139.7 L471.9,137.6 L476.3,135.6 L480.7,133.7 L485.0,131.9 L489.4,130.2 L493.8,128.6 L498.1,127.1 L502.5,125.8 L506.9,124.6 L511.2,123.5 L515.6,122.4 L520.0,121.5 L524.3,120.6 L528.7,119.7 L533.1,118.9 L537.4,118.2 L541.8,117.7 L546.2,117.3 L550.5,116.9 L554.9,116.6 L559.3,116.3 L563.6,116.2 L568.0,116.1 L572.4,116.1 L576.7,116.2 L581.1,116.3 L585.5,116.5 L589.8,116.8 L594.2,117.2 L598.6,117.7 L602.9,118.2 L607.3,118.8 L611.7,119.5 L616.0,120.4 L620.4,121.4 L624.8,122.4 L629.1,123.5 L633.5,124.6 L637.9,125.8 L642.2,127.1 L646.6,128.4 L651.0,129.8 L655.3,131.2 L659.7,132.7 L664.1,134.3 L668.4,135.8 L672.8,137.4 L677.2,139.0 L681.5,140.6 L685.9,142.2 L690.3,143.9 L694.6,145.6 L699.0,147.3 L703.4,149.1 L707.7,150.9 L712.1,152.7 L716.5,154.5 L720.8,156.3 L725.2,158.2 L729.6,160.1 L733.9,162.0 L738.3,164.0" fill="none" stroke="#fff" stroke-width="3.5"/><g fill="#6D3E91" stroke="#6D3E91"><path d="M402.1,180.7 L406.4,177.7 L410.8,174.6 L415.2,171.4 L419.5,168.2 L423.9,165.2 L428.3,162.2 L432.6,159.4 L437.0,156.7 L441.4,154.1 L445.7,151.5 L450.1,149.0 L454.5,146.5 L458.8,144.1 L463.2,141.9 L467.6,139.7 L471.9,137.6 L476.3,135.6 L480.7,133.7 L485.0,131.9 L489.4,130.2 L493.8,128.6 L498.1,127.1 L502.5,125.8 L506.9,124.6 L511.2,123.5 L515.6,122.4 L520.0,121.5 L524.3,120.6 L528.7,119.7 L533.1,118.9 L537.4,118.2 L541.8,117.7 L546.2,117.3 L550.5,116.9 L554.9,116.6 L559.3,116.3 L563.6,116.2 L568.0,116.1 L572.4,116.1 L576.7,116.2 L581.1,116.3 L585.5,116.5 L589.8,116.8 L594.2,117.2 L598.6,117.7 L602.9,118.2 L607.3,118.8 L611.7,119.5 L616.0,120.4 L620.4,121.4 L624.8,122.4 L629.1,123.5 L633.5,124.6 L637.9,125.8 L642.2,127.1 L646.6,128.4 L651.0,129.8 L655.3,131.2 L659.7,132.7 L664.1,134.3 L668.4,135.8 L672.8,137.4 L677.2,139.0 L681.5,140.6 L685.9,142.2 L690.3,143.9 L694.6,145.6 L699.0,147.3 L703.4,149.1 L707.7,150.9 L712.1,152.7 L716.5,154.5 L720.8,156.3 L725.2,158.2 L729.6,160.1 L733.9,162.0 L738.3,164.0" fill="none" stroke-width="1.5" stroke-dasharray="2 3"/><path d="M83.3,447.6 L87.7,445.6 L92.0,443.6 L96.4,441.5 L100.8,439.4 L105.1,437.2 L109.5,435.0 L113.9,432.7 L118.2,430.4 L122.6,428.0 L127.0,425.6 L131.3,423.2 L135.7,420.7 L140.1,418.1 L144.4,415.5 L148.8,412.9 L153.2,410.2 L157.5,407.4 L161.9,404.6 L166.3,401.7 L170.6,398.7 L175.0,395.6 L179.4,392.5 L183.7,389.3 L188.1,385.9 L192.5,382.5 L196.8,379.0 L201.2,375.5 L205.6,371.8 L209.9,368.1 L214.3,364.3 L218.7,360.4 L223.0,356.3 L227.4,352.1 L231.8,347.8 L236.1,343.4 L240.5,338.9 L244.9,334.4 L249.2,329.8 L253.6,325.3 L258.0,320.7 L262.3,316.1 L266.7,311.4 L271.1,306.6 L275.4,301.8 L279.8,297.1 L284.2,292.4 L288.5,287.7 L292.9,283.0 L297.3,278.3 L301.6,273.7 L306.0,269.1 L310.4,264.4 L314.7,259.8 L319.1,255.1 L323.5,250.5 L327.8,246.0 L332.2,241.4 L336.6,237.0 L340.9,232.6 L345.3,228.4 L349.7,224.2 L354.0,220.0 L358.4,215.9 L362.8,211.7 L367.1,207.7 L371.5,203.8 L375.9,199.9 L380.2,196.3 L384.6,192.7 L389.0,189.4 L393.3,186.4 L397.7,183.6 L402.1,180.7" fill="none" stroke-width="1.5"/><g stroke="none"><circle cx="83.3" cy="447.6" r="2"/><circle cx="87.7" cy="445.6" r="2"/><circle cx="92.0" cy="443.6" r="2"/><circle cx="96.4" cy="441.5" r="2"/><circle cx="100.8" cy="439.4" r="2"/><circle cx="105.1" cy="437.2" r="2"/><circle cx="109.5" cy="435.0" r="2"/><circle cx="113.9" cy="432.7" r="2"/><circle cx="118.2" cy="430.4" r="2"/><circle cx="122.6" cy="428.0" r="2"/><circle cx="127.0" cy="425.6" r="2"/><circle cx="131.3" cy="423.2" r="2"/><circle cx="135.7" cy="420.7" r="2"/><circle cx="140.1" cy="418.1" r="2"/><circle cx="144.4" cy="415.5" r="2"/><circle cx="148.8" cy="412.9" r="2"/><circle cx="153.2" cy="410.2" r="2"/><circle cx="157.5" cy="407.4" r="2"/><circle cx="161.9" cy="404.6" r="2"/><circle cx="166.3" cy="401.7" r="2"/><circle cx="170.6" cy="398.7" r="2"/><circle cx="175.0" cy="395.6" r="2"/><circle cx="179.4" cy="392.5" r="2"/><circle cx="183.7" cy="389.3" r="2"/><circle cx="188.1" cy="385.9" r="2"/><circle cx="192.5" cy="382.5" r="2"/><circle cx="196.8" cy="379.0" r="2"/><circle cx="201.2" cy="375.5" r="2"/><circle cx="205.6" cy="371.8" r="2"/><circle cx="209.9" cy="368.1" r="2"/><circle cx="214.3" cy="364.3" r="2"/><circle cx="218.7" cy="360.4" r="2"/><circle cx="223.0" cy="356.3" r="2"/><circle cx="227.4" cy="352.1" r="2"/><circle cx="231.8" cy="347.8" r="2"/><circle cx="236.1" cy="343.4" r="2"/><circle cx="240.5" cy="338.9" r="2"/><circle cx="244.9" cy="334.4" r="2"/><circle cx="249.2" cy="329.8" r="2"/><circle cx="253.6" cy="325.3" r="2"/><circle cx="258.0" cy="320.7" r="2"/><circle cx="262.3" cy="316.1" r="2"/><circle cx="266.7" cy="311.4" r="2"/><circle cx="271.1" cy="306.6" r="2"/><circle cx="275.4" cy="301.8" r="2"/><circle cx="279.8" cy="297.1" r="2"/><circle cx="284.2" cy="292.4" r="2"/><circle cx="288.5" cy="287.7" r="2"/><circle cx="292.9" cy="283.0" r="2"/><circle cx="297.3" cy="278.3" r="2"/><circle cx="301.6" cy="273.7" r="2"/><circle cx="306.0" cy="269.1" r="2"/><circle cx="310.4" cy="264.4" r="2"/><circle cx="314.7" cy="259.8" r="2"/><circle cx="319.1" cy="255.1" r="2"/><circle cx="323.5" cy="250.5" r="2"/><circle cx="327.8" cy="246.0" r="2"/><circle cx="332.2" cy="241.4" r="2"/><circle cx="336.6" cy="237.0" r="2"/><circle cx="340.9" cy="232.6" r="2"/><circle cx="345.3" cy="228.4" r="2"/><circle cx="349.7" cy="224.2" r="2"/><circle cx="354.0" cy="220.0" r="2"/><circle cx="358.4" cy="215.9" r="2"/><circle cx="362.8" cy="211.7" r="2"/><circle cx="367.1" cy="207.7" r="2"/><circle cx="371.5" cy="203.8" r="2"/><circle cx="375.9" cy="199.9" r="2"/><circle cx="380.2" cy="196.3" r="2"/><circle cx="384.6" cy="192.7" r="2"/><circle cx="389.0" cy="189.4" r="2"/><circle cx="393.3" cy="186.4" r="2"/><circle cx="397.7" cy="183.6" r="2"/><circle cx="402.1" cy="180.7" r="2"/></g></g>
</g>
<g id="labels">
<text x="742" y="520.8" fill="#18470F" font-size="13.3" textLength="54">Under-5s</text>
<text x="742" y="486.5" fill="#883039" font-size="13.3" textLength="61.5">Under-15s</text>
<text x="742" y="450.0" fill="#286BBB" font-size="13.3" textLength="61.5">Under-25s</text>
<text x="742" y="366.0" fill="#2C8465" font-size="13.3" textLength="66.5">Ages 25-64</text>
<text x="742" y="427.9" fill="#BE5915" font-size="13.3" textLength="54">Ages 65+</text>
<text x="742" y="168.8" fill="#6D3E91" font-size="13.3" textLength="28">Total</text>
</g>
<text x="16" y="581.0" font-size="13" font-weight="bold" fill="#858585" textLength="72.5">Data source:</text>
<text x="92" y="581.0" font-size="13" fill="#858585" textLength="225.5">UN, World Population Prospects (2024)</text>
<text x="560" y="581.0" font-size="13" fill="#858585" textLength="275.5">OurWorldinData.org/population-growth | CC BY</text>
</svg>
</body></html>
